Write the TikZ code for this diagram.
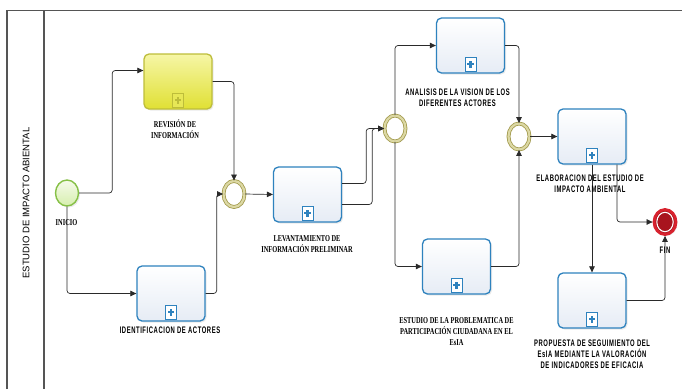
\documentclass[tikz,border=0pt]{standalone}
\usepackage{fontspec}
\usetikzlibrary{arrows.meta,shapes.geometric,shadows}
\newfontfamily\lanefont{Liberation Sans}
\newfontfamily\condsans[FakeStretch=0.62, LetterSpace=6]{Liberation Sans}
\newfontfamily\condserif[FakeStretch=0.71]{Liberation Serif}

\definecolor{taskblue}{HTML}{2E82BE}
\definecolor{taskfill}{HTML}{E6ECF5}
\definecolor{revborder}{HTML}{BDBD3A}
\definecolor{revtop}{HTML}{F6F6A6}
\definecolor{revbottom}{HTML}{E0E034}
\definecolor{gateline}{HTML}{A29A4C}
\definecolor{gateband}{HTML}{DCD8A4}
\definecolor{startline}{HTML}{86C046}
\definecolor{starttop}{HTML}{F6FBEA}
\definecolor{startbottom}{HTML}{D6EEAE}
\definecolor{endline}{HTML}{D8222E}
\definecolor{endfill}{HTML}{A8141E}
\definecolor{flowline}{HTML}{2A2A2A}
\definecolor{frameline}{HTML}{555555}

\tikzset{
  frame/.style={draw=frameline, line width=1.2pt},
  flow/.style={draw=flowline, line width=0.7pt, rounded corners=3pt,
    -{Triangle[length=6pt,width=5.5pt]}},
  softshadow/.style={drop shadow={opacity=0.16, shadow xshift=1.5pt, shadow yshift=-1.5pt}},
  task/.style={draw=taskblue, line width=1.3pt, rounded corners=5pt,
    minimum width=68pt, minimum height=55pt, inner sep=0pt,
    top color=white, bottom color=taskfill, softshadow},
  revtask/.style={task, draw=revborder, top color=revtop, bottom color=revbottom},
  plusmark/.style 2 args={draw=#1, line width=1pt, fill=#2,
    minimum width=11pt, minimum height=14pt, inner sep=0pt,
    path picture={
      \fill[#1] (path picture bounding box.center) +(-3.4pt,-1.1pt) rectangle +(3.4pt,1.1pt);
      \fill[#1] (path picture bounding box.center) +(-1.1pt,-3.4pt) rectangle +(1.1pt,3.4pt);
    }},
  startev/.style={ellipse, draw=startline, line width=1.4pt, inner sep=0pt,
    minimum width=23pt, minimum height=26pt,
    top color=starttop, bottom color=startbottom, softshadow},
  gateev/.style={ellipse, draw=gateline, double=gateband, double distance=2.2pt,
    line width=0.8pt, fill=white, inner sep=0pt,
    minimum width=21pt, minimum height=26pt, softshadow},
  endev/.style={ellipse, draw=endline, line width=2.8pt, fill=endfill, inner sep=0pt,
    minimum width=22pt, minimum height=25pt, softshadow,
    path picture={\draw[white, line width=1.1pt] (path picture bounding box.center) ellipse (8.2pt and 9.7pt);}},
  serlabel/.style={font=\condserif\bfseries\fontsize{9}{10.8}\selectfont, align=center, inner sep=0pt, text=black},
  sanlabel/.style={font=\condsans\bfseries\fontsize{9.5}{11}\selectfont, align=center, inner sep=0pt, text=black},
}

\begin{document}
\begin{tikzpicture}[x=1pt, y=-1pt]
\useasboundingbox (0,0) rectangle (682,389);
\fill[white] (0,0) rectangle (682,389);

% pool and lane borders
\draw[frame] (7,389) -- (7,10.5) -- (682,10.5);
\draw[frame] (44,10.5) -- (44,389);
\node[rotate=90, font=\lanefont\fontsize{9.5}{11}\selectfont, inner sep=0pt] (lanename) at (26,203) {ESTUDIO DE IMPACTO ABIENTAL};

% events and gateways
\node[startev] (start) at (67,193) {};
\node[gateev] (g1) at (234,194) {};
\node[gateev] (g2) at (395,128.5) {};
\node[gateev] (g3) at (519,136.5) {};
\node[endev] (fin) at (665,222) {};

% sub-processes
\node[revtask] (rev) at (178,81.5) {};
\node[task] (ident) at (171,293.5) {};
\node[task] (lev) at (307.5,194.5) {};
\node[task] (ana) at (470.5,45.5) {};
\node[task] (est) at (456.5,266.5) {};
\node[task] (ela) at (592,136.5) {};
\node[task] (prop) at (592,300.5) {};

% collapsed sub-process markers
\node[plusmark={revborder}{revbottom!70!revtop}] (rev-m) at ([yshift=9.5pt]rev.south) {};
\node[plusmark={taskblue}{white}] (ident-m) at ([yshift=9.5pt]ident.south) {};
\node[plusmark={taskblue}{white}] (lev-m) at ([yshift=9.5pt]lev.south) {};
\node[plusmark={taskblue}{white}] (ana-m) at ([yshift=9.5pt]ana.south) {};
\node[plusmark={taskblue}{white}] (est-m) at ([yshift=9.5pt]est.south) {};
\node[plusmark={taskblue}{white}] (ela-m) at ([yshift=9.5pt]ela.south) {};
\node[plusmark={taskblue}{white}] (prop-m) at ([yshift=9.5pt]prop.south) {};

% sequence flows
\draw[flow] (start.east) -- ++(33,0) |- ([yshift=11pt]rev.west);
\draw[flow] (start.south) |- (ident.west);
\draw[flow] (rev.east) -| (g1.north);
\draw[flow] (ident.east) -- ++(11,0) |- (g1.west);
\draw[flow] (g1.east) -- (lev.west);
\draw[flow] ([yshift=11pt]lev.east) -- ++(24,0) |- (g2.west);
\draw[flow] ([yshift=-10pt]lev.east) -- ++(30,0) |- (g2.west);
\draw[flow] (g2.north) |- (ana.west);
\draw[flow] (g2.south) |- (est.west);
\draw[flow] (ana.east) -| (g3.north);
\draw[flow] (est.east) -| (g3.south);
\draw[flow] (g3.east) -- (ela.west);
\draw[flow] (ela.south) -- (prop.north);
\draw[flow] ([xshift=25pt]ela.south) |- (fin.west);
\draw[flow] (prop.east) -| (fin.south);

% labels
\node[serlabel] (start-l) at (66.5,223) {INICIO};
\node[serlabel] (rev-l) at (175,129.5) {REVISIÓN DE\\INFORMACIÓN};
\node[sanlabel] (ident-l) at (170,330.5) {IDENTIFICACION DE ACTORES};
\node[serlabel] (lev-l) at (307,244) {LEVANTAMIENTO DE\\INFORMACIÓN PRELIMINAR};
\node[sanlabel] (ana-l) at (457.5,98) {ANALISIS DE LA VISION DE LOS\\DIFERENTES ACTORES};
\node[serlabel] (est-l) at (456.5,331.5) {ESTUDIO DE LA PROBLEMATICA DE\\PARTICIPACIÓN CIUDADANA EN EL\\EsIA};
\node[sanlabel] (ela-l) at (590,184) {ELABORACION DEL ESTUDIO DE\\IMPACTO AMBIENTAL};
\node[sanlabel] (prop-l) at (592,354) {PROPUESTA DE SEGUIMIENTO DEL\\EsIA MEDIANTE LA VALORACIÓN\\DE INDICADORES DE EFICACIA};
\node[sanlabel] (fin-l) at (665,250) {FIN};
\end{tikzpicture}
\end{document}
